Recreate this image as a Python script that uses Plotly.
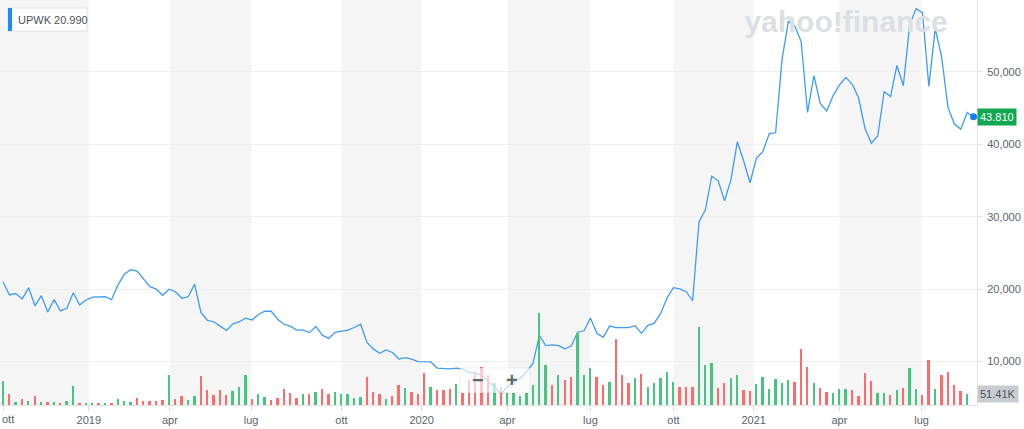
import pandas as pd
import plotly.graph_objects as go

# ---------------- data ----------------
ticker = "UPWK"
first_price_label = "20.990"
last_price_label = "43.810"
last_volume_label = "51.41K"

start_date = "2018-10-01"

prices = [
    20.99, 19.2, 19.4, 18.65, 20.2, 17.7, 19.1, 16.85, 18.55, 17.0,
    17.35, 19.5, 17.8, 18.5, 18.9, 18.9, 18.95, 18.55, 20.6, 22.05,
    22.7, 22.5, 21.5, 20.35, 20.0, 19.15, 20.0, 19.65, 18.75, 18.95,
    20.7, 16.75, 15.7, 15.5, 14.9, 14.3, 15.2, 15.5, 16.0, 15.75,
    16.5, 16.95, 16.95, 15.85, 15.15, 14.9, 14.35, 14.35, 14.0, 14.85,
    13.65, 13.2, 14.05, 14.25, 14.35, 14.7, 15.15, 12.65, 11.75, 11.15,
    11.6, 11.25, 10.35, 10.55, 10.35, 10.0, 9.95, 9.95, 9.1, 9.05,
    9.0, 9.1, 8.95, 8.5, 8.4, 8.1, 7.2, 6.5, 5.5, 6.55,
    7.2, 7.7, 8.6, 9.75, 13.6, 12.2, 12.3, 12.2, 11.75, 12.15,
    14.05, 14.25, 16.0, 13.9, 13.35, 14.9, 14.7, 14.7, 14.7, 14.95,
    13.9, 15.0, 15.3, 16.65, 18.8, 20.2, 20.05, 19.65, 18.4, 29.3,
    30.95, 35.6, 35.0, 32.2, 35.1, 40.35, 37.7, 34.7, 38.1, 39.0,
    41.5, 41.6, 51.7, 57.0, 56.35, 54.2, 44.4, 49.5, 45.65, 44.6,
    46.7, 48.2, 49.25, 48.3, 46.4, 42.2, 40.15, 41.15, 47.3, 46.6,
    50.9, 48.1, 56.5, 58.75, 58.2, 48.0, 56.0, 52.1, 45.1, 42.8,
    42.1, 44.4, 43.81,
]

# weekly volume, thousands
volumes_k = [
    117, 51, 13, 29, 18, 43, 14, 13, 13, 10,
    21, 91, 10, 10, 10, 5, 5, 10, 29, 18,
    14, 34, 18, 18, 18, 23, 143, 29, 43, 25,
    43, 139, 72, 48, 72, 48, 67, 88, 143, 29,
    51, 38, 25, 34, 75, 59, 34, 51, 51, 62,
    75, 53, 61, 55, 51, 36, 38, 134, 62, 51,
    29, 43, 96, 83, 63, 51, 155, 88, 72, 72,
    76, 101, 60, 120, 158, 182, 144, 106, 88, 56,
    56, 43, 59, 96, 440, 192, 96, 143, 120, 133,
    344, 143, 179, 134, 96, 109, 317, 143, 104, 130,
    149, 85, 104, 130, 158, 109, 85, 85, 85, 376,
    191, 202, 80, 104, 130, 143, 71, 67, 101, 134,
    75, 126, 104, 120, 109, 270, 184, 104, 80, 62,
    59, 75, 75, 71, 43, 152, 117, 59, 59, 49,
    71, 80, 176, 75, 49, 216, 75, 143, 158, 96,
    67, 51.41,
]

# bar direction: G = up week, R = down week
volume_dir = list(
    "GRGRGRGRGR"
    "GGRGGRGRGG"
    "GRRRRRGRRG"
    "GRRRRRGGGR"
    "GGRRRRRGRG"
    "RRGGGGGRRR"
    "GRRGRRRGRR"
    "RGRRRRRGRG"
    "GGGGGGRGRR"
    "GGGRRGRRRG"
    "RGGGGGRRRG"
    "GGRRGGRRGG"
    "GGGGRRRGRR"
    "GGGRRRRGGR"
    "GRGGRRGRRR"
    "RG"
)

# quarter ticks sit on the first weekly point of each quarter
tick_dates = ["2018-10-01", "2019-01-03", "2019-04-02", "2019-06-30",
              "2019-10-07", "2020-01-03", "2020-04-06", "2020-07-06",
              "2020-10-05", "2021-01-01", "2021-04-05", "2021-07-04"]
tick_text = ["ott", "2019", "apr", "lug", "ott", "2020", "apr", "lug",
             "ott", "2021", "apr", "lug"]

price_ticks = [10, 20, 30, 40, 50]
price_tick_text = ["10,000", "20,000", "30,000", "40,000", "50,000"]

# shaded quarters (every other quarter, between tick positions)
shaded_quarters = [("2018-09-20", tick_dates[1]), (tick_dates[2], tick_dates[3]),
                   (tick_dates[4], tick_dates[5]), (tick_dates[6], tick_dates[7]),
                   (tick_dates[8], tick_dates[9]), (tick_dates[10], tick_dates[11])]

# ---------------- figure ----------------
dates = pd.date_range(start_date, periods=len(prices), freq="7D")
vol_dates = dates[:len(volumes_k)]

GREEN = "#45c482"
RED = "#ff6b6b"
LINE = "#3f9cf2"
TXT = "#5b636a"
FONT = "Liberation Sans"

fig = go.Figure()

# watermark (behind everything)
fig.add_trace(go.Scatter(
    x=[0.866], y=[0.94], mode="text", text=["<b>yahoo!finance</b>"],
    textfont=dict(family=FONT, size=30, color="#dcdfe3"),
    xaxis="x3", yaxis="y3", hoverinfo="skip", showlegend=False))

fig.add_trace(go.Bar(
    x=vol_dates, y=volumes_k, yaxis="y2",
    marker=dict(color=[GREEN if d == "G" else RED for d in volume_dir], line_width=0),
    width=2.0 * 86400000, showlegend=False, hoverinfo="skip"))

fig.add_trace(go.Scatter(
    x=dates, y=prices, mode="lines", line=dict(color=LINE, width=1.3),
    showlegend=False, hoverinfo="skip"))

fig.add_trace(go.Scatter(
    x=[dates[-1]], y=[prices[-1]], mode="markers",
    marker=dict(color="#1a7cf0", size=7), showlegend=False, hoverinfo="skip"))

shapes = []
for a, b in shaded_quarters:
    shapes.append(dict(type="rect", xref="x", yref="paper", x0=a, x1=b, y0=0, y1=1,
                       fillcolor="#f5f5f5", line_width=0, layer="below"))

W, H = 977.0, 405.0
# legend box
shapes.append(dict(type="rect", xref="paper", yref="paper",
                   x0=8 / W, x1=87 / W, y0=1 - 31 / H, y1=1 - 8 / H,
                   fillcolor="white", line=dict(color="#e4e4e4", width=1), layer="above"))
shapes.append(dict(type="rect", xref="paper", yref="paper",
                   x0=8 / W, x1=12 / W, y0=1 - 31 / H, y1=1 - 8 / H,
                   fillcolor="#1a8cff", line_width=0, layer="above"))
# zoom control
shapes.append(dict(type="rect", xref="paper", yref="paper",
                   x0=460 / W, x1=530 / W, y0=1 - 393 / H, y1=1 - 368 / H,
                   fillcolor="rgba(255,255,255,0.65)", line=dict(color="rgba(0,0,0,0.06)", width=1),
                   layer="above"))

annotations = [
    dict(xref="paper", yref="paper", x=16 / W, y=1 - 19.5 / H, xanchor="left", yanchor="middle",
         text=f"{ticker} {first_price_label}", showarrow=False,
         font=dict(family=FONT, size=11, color="#4d5258")),
    dict(xref="paper", yref="paper", x=478 / W, y=1 - 380 / H, text="<b>−</b>", showarrow=False,
         font=dict(family=FONT, size=20, color="#62686e"), xanchor="center", yanchor="middle"),
    dict(xref="paper", yref="paper", x=512 / W, y=1 - 380 / H, text="<b>+</b>", showarrow=False,
         font=dict(family=FONT, size=20, color="#62686e"), xanchor="center", yanchor="middle"),
    dict(xref="paper", yref="y", x=1.0, y=prices[-1], xanchor="left", yanchor="middle",
         text=last_price_label, showarrow=False, bgcolor="#12a852", borderpad=2,
         font=dict(family=FONT, size=11, color="white")),
    dict(xref="paper", yref="y2", x=1.0, y=volumes_k[-1], xanchor="left", yanchor="middle",
         text=last_volume_label, showarrow=False, bgcolor="#c9cdd2", borderpad=2,
         font=dict(family=FONT, size=11, color="#4d5258")),
    # first quarter label at the left edge
    dict(xref="paper", yref="paper", x=0, y=0, yanchor="top", yshift=-6,
         xanchor="left", text=tick_text[0], showarrow=False,
         font=dict(family=FONT, size=11, color=TXT)),
]

fig.update_layout(
    width=1024, height=429,
    margin=dict(l=0, r=47, t=0, b=24),
    paper_bgcolor="white", plot_bgcolor="white",
    shapes=shapes, annotations=annotations,
    bargap=0,
    xaxis=dict(type="date", range=["2018-09-27 16:00", "2021-09-02 19:00"],
               tickvals=tick_dates, ticktext=["" if i == 0 else t for i, t in enumerate(tick_text)],
               showgrid=False,
               showline=True, linecolor="#e3e3e3", ticks="outside", ticklen=5,
               tickcolor="#dcdcdc", tickfont=dict(family=FONT, size=11, color=TXT),
               zeroline=False, fixedrange=True),
    yaxis=dict(range=[4.0, 59.94], side="right", tickvals=price_ticks,
               ticktext=price_tick_text, showgrid=True, gridcolor="#efefef",
               showline=True, linecolor="#e3e3e3", ticks="outside", ticklen=4,
               tickcolor="#e3e3e3", ticklabelstandoff=3,
               tickfont=dict(family=FONT, size=11, color=TXT), zeroline=False),
    yaxis2=dict(range=[0, 1944], overlaying="y", visible=False),
    xaxis3=dict(range=[0, 1], overlaying="x", visible=False),
    yaxis3=dict(range=[0, 1], overlaying="y", visible=False),
)

fig.write_html(
    "out.html",
    config={"displayModeBar": False},
    post_script="document.body.style.margin='0';document.body.style.padding='0';"
                "document.documentElement.style.overflow='hidden';",
)
